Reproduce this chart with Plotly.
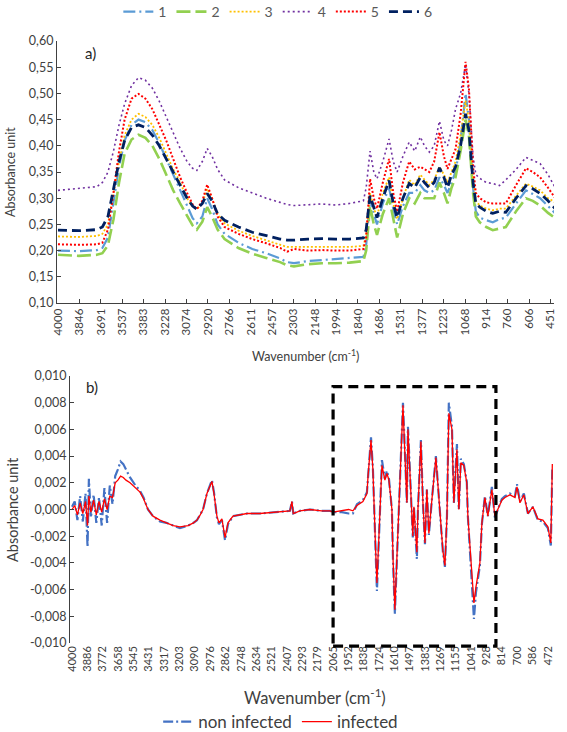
import plotly.graph_objects as go

W, H = 567, 732

# ---------------- data: panel a) ----------------
wn_a = [4000, 3850, 3720, 3680, 3640, 3600, 3560, 3520, 3470, 3420, 3370, 3320, 3270, 3220,
        3170, 3120, 3070, 3030, 3000, 2960, 2925, 2890, 2850, 2800, 2700, 2600, 2500, 2400,
        2350, 2300, 2200, 2100, 2000, 1900, 1800, 1780, 1752, 1725, 1702, 1660, 1615, 1585,
        1557, 1515, 1470, 1430, 1390, 1360, 1325, 1290, 1252, 1220, 1194, 1165, 1136, 1100,
        1064, 1040, 1010, 990, 962, 915, 868, 820, 774, 700, 629, 580, 527, 470, 418]

s1 = [0.200, 0.199, 0.201, 0.205, 0.225, 0.290, 0.360, 0.410, 0.440, 0.450, 0.445, 0.430, 0.405, 0.375,
      0.345, 0.315, 0.285, 0.262, 0.252, 0.265, 0.300, 0.280, 0.250, 0.232, 0.215, 0.203, 0.195, 0.185,
      0.178, 0.176, 0.180, 0.182, 0.184, 0.185, 0.188, 0.210, 0.300, 0.270, 0.250, 0.290, 0.320, 0.280,
      0.250, 0.285, 0.310, 0.310, 0.325, 0.315, 0.310, 0.315, 0.340, 0.325, 0.310, 0.330, 0.350, 0.410,
      0.500, 0.450, 0.320, 0.275, 0.263, 0.258, 0.254, 0.260, 0.263, 0.290, 0.315, 0.308, 0.300, 0.285, 0.271]
s2 = [0.192, 0.190, 0.192, 0.195, 0.210, 0.260, 0.330, 0.385, 0.412, 0.421, 0.415, 0.400, 0.375, 0.345,
      0.315, 0.290, 0.265, 0.248, 0.240, 0.255, 0.283, 0.265, 0.240, 0.222, 0.205, 0.194, 0.186, 0.178,
      0.172, 0.170, 0.174, 0.176, 0.176, 0.177, 0.180, 0.200, 0.285, 0.250, 0.230, 0.270, 0.300, 0.260,
      0.225, 0.270, 0.300, 0.290, 0.310, 0.300, 0.300, 0.300, 0.330, 0.310, 0.290, 0.320, 0.340, 0.390,
      0.450, 0.420, 0.310, 0.265, 0.254, 0.245, 0.239, 0.242, 0.245, 0.275, 0.300, 0.295, 0.286, 0.272, 0.262]
s3 = [0.227, 0.226, 0.228, 0.232, 0.250, 0.310, 0.370, 0.420, 0.450, 0.461, 0.455, 0.440, 0.415, 0.385,
      0.355, 0.330, 0.300, 0.285, 0.279, 0.290, 0.318, 0.300, 0.270, 0.252, 0.238, 0.228, 0.220, 0.212,
      0.207, 0.207, 0.207, 0.208, 0.207, 0.207, 0.209, 0.230, 0.310, 0.280, 0.265, 0.310, 0.340, 0.290,
      0.260, 0.300, 0.335, 0.325, 0.345, 0.335, 0.325, 0.335, 0.360, 0.345, 0.330, 0.350, 0.370, 0.420,
      0.486, 0.450, 0.340, 0.295, 0.286, 0.280, 0.277, 0.280, 0.280, 0.305, 0.328, 0.322, 0.315, 0.300, 0.292]
s4 = [0.315, 0.318, 0.322, 0.330, 0.350, 0.390, 0.440, 0.480, 0.515, 0.530, 0.525, 0.510, 0.485, 0.455,
      0.425, 0.395, 0.370, 0.357, 0.353, 0.370, 0.395, 0.380, 0.355, 0.335, 0.320, 0.310, 0.300, 0.292,
      0.288, 0.286, 0.288, 0.289, 0.287, 0.290, 0.295, 0.320, 0.390, 0.350, 0.337, 0.370, 0.413, 0.370,
      0.350, 0.380, 0.407, 0.390, 0.417, 0.400, 0.388, 0.400, 0.447, 0.410, 0.400, 0.430, 0.470, 0.500,
      0.555, 0.500, 0.380, 0.345, 0.338, 0.330, 0.328, 0.324, 0.335, 0.355, 0.378, 0.372, 0.366, 0.345, 0.320]
s5 = [0.212, 0.211, 0.212, 0.215, 0.240, 0.310, 0.390, 0.450, 0.490, 0.499, 0.490, 0.470, 0.440, 0.410,
      0.375, 0.340, 0.310, 0.288, 0.279, 0.295, 0.326, 0.300, 0.265, 0.245, 0.232, 0.222, 0.214, 0.205,
      0.198, 0.203, 0.200, 0.201, 0.200, 0.200, 0.203, 0.225, 0.337, 0.300, 0.280, 0.330, 0.375, 0.310,
      0.274, 0.330, 0.370, 0.355, 0.360, 0.355, 0.350, 0.370, 0.426, 0.380, 0.356, 0.375, 0.394, 0.460,
      0.560, 0.510, 0.360, 0.310, 0.300, 0.292, 0.290, 0.290, 0.290, 0.325, 0.357, 0.350, 0.340, 0.320, 0.300]
s6 = [0.239, 0.238, 0.240, 0.245, 0.265, 0.320, 0.370, 0.410, 0.435, 0.440, 0.435, 0.420, 0.400, 0.375,
      0.350, 0.325, 0.300, 0.285, 0.279, 0.290, 0.309, 0.295, 0.270, 0.258, 0.245, 0.235, 0.228, 0.222,
      0.220, 0.220, 0.222, 0.223, 0.222, 0.222, 0.224, 0.240, 0.305, 0.280, 0.263, 0.300, 0.334, 0.290,
      0.263, 0.300, 0.328, 0.320, 0.340, 0.330, 0.320, 0.330, 0.358, 0.340, 0.320, 0.345, 0.360, 0.400,
      0.461, 0.430, 0.330, 0.290, 0.283, 0.275, 0.271, 0.275, 0.273, 0.300, 0.324, 0.318, 0.309, 0.295, 0.280]

series_a = [("1", s1), ("2", s2), ("3", s3), ("4", s4), ("5", s5), ("6", s6)]
ticks_a = [4000, 3846, 3691, 3537, 3383, 3228, 3074, 2920, 2766, 2611, 2457, 2303, 2148, 1994,
           1840, 1686, 1531, 1377, 1223, 1068, 914, 760, 606, 451]
yticks_a = [0.10, 0.15, 0.20, 0.25, 0.30, 0.35, 0.40, 0.45, 0.50, 0.55, 0.60]
ytext_a = ["0,10", "0,15", "0,20", "0,25", "0,30", "0,35", "0,40", "0,45", "0,50", "0,55", "0,60"]

# ---------------- data: panel b) ----------------
wn_b = [4000, 3980, 3960, 3940, 3920, 3900, 3885, 3875, 3860, 3840, 3820, 3800, 3780, 3760, 3740,
        3720, 3700, 3680, 3660, 3640, 3620, 3600, 3570, 3530, 3496, 3470, 3437, 3400, 3348, 3300,
        3250, 3200, 3140, 3100, 3074, 3050, 3029, 3000, 2963, 2948, 2926, 2911, 2889, 2866, 2844,
        2807, 2750, 2703, 2607, 2481, 2385, 2370, 2360, 2311, 2237, 2150, 2088, 2066, 2000, 1950,
        1918, 1888, 1844, 1814, 1806, 1784, 1770, 1762, 1747, 1740, 1725, 1703, 1681, 1666, 1651,
        1629, 1621, 1607, 1592, 1577, 1562, 1547, 1533, 1518, 1510, 1496, 1481, 1474, 1466, 1444,
        1436, 1414, 1399, 1384, 1370, 1355, 1333, 1303, 1281, 1251, 1236, 1221, 1207, 1184, 1170,
        1147, 1133, 1118, 1096, 1074, 1066, 1036, 1021, 1006, 992, 977, 962, 940, 918, 888,
        866, 843, 814, 791, 754, 717, 702, 680, 651, 621, 584, 547, 510, 473, 451, 440]

infected = [0.0000, 0.0003, -0.0004, 0.0005, -0.0003, 0.0006, -0.0012, 0.0010, -0.0002, 0.0007,
            -0.0004, 0.0006, -0.0002, 0.0008, 0.0000, 0.0010, 0.0009, 0.0020, 0.0022, 0.0025,
            0.0024, 0.0022, 0.0020, 0.0016, 0.0013, 0.0008, 0.0000, -0.0005, -0.0008, -0.0010,
            -0.0012, -0.0013, -0.0012, -0.0010, -0.0008, -0.0004, 0.0000, 0.0012, 0.0021, 0.0012,
            -0.0005, -0.0010, -0.0007, -0.0021, -0.0010, -0.0005, -0.0004, -0.0003, -0.0003, -0.0002,
            -0.0001, 0.0006, -0.0003, -0.0001, 0.0000, -0.0001, -0.0001, -0.0002, -0.0001, 0.0000,
            -0.0001, 0.0003, 0.0006, 0.0012, 0.0025, 0.0052, 0.0030, 0.0000, -0.0038, -0.0055,
            -0.0015, 0.0033, 0.0022, 0.0027, 0.0022, 0.0000, -0.0036, -0.0075, -0.0036, 0.0000,
            0.0030, 0.0078, 0.0042, 0.0005, 0.0060, 0.0030, 0.0000, -0.0020, 0.0002, -0.0032,
            0.0000, 0.0051, 0.0005, -0.0025, 0.0015, -0.0018, 0.0007, 0.0039, 0.0009, -0.0031,
            -0.0042, -0.0005, 0.0072, 0.0060, 0.0005, 0.0045, 0.0000, 0.0035, 0.0033, 0.0020,
            -0.0005, -0.0050, -0.0070, -0.0058, -0.0048, -0.0040, -0.0010, 0.0009, -0.0005, 0.0015,
            -0.0005, 0.0000, 0.0007, 0.0009, 0.0011, 0.0009, 0.0017, 0.0005, 0.0011, -0.0003,
            0.0002, -0.0007, -0.0008, -0.0013, -0.0025, 0.0034]
non_infected = [0.0002, 0.0006, -0.0008, 0.0010, -0.0009, 0.0012, -0.0028, 0.0023, -0.0006, 0.0011,
                -0.0010, 0.0009, -0.0012, 0.0016, -0.0010, 0.0018, 0.0004, 0.0025, 0.0030, 0.0036,
                0.0034, 0.0030, 0.0024, 0.0018, 0.0014, 0.0009, 0.0000, -0.0005, -0.0009, -0.0010,
                -0.0012, -0.0014, -0.0012, -0.0010, -0.0008, -0.0004, 0.0000, 0.0012, 0.0022, 0.0013,
                -0.0006, -0.0011, -0.0008, -0.0023, -0.0011, -0.0005, -0.0004, -0.0003, -0.0003, -0.0002,
                -0.0001, 0.0006, -0.0003, -0.0001, 0.0000, -0.0001, -0.0001, -0.0002, -0.0002, -0.0003,
                -0.0003, 0.0004, 0.0007, 0.0013, 0.0026, 0.0054, 0.0031, 0.0000, -0.0040, -0.0061,
                -0.0016, 0.0037, 0.0023, 0.0029, 0.0023, 0.0000, -0.0038, -0.0078, -0.0038, 0.0000,
                0.0031, 0.0080, 0.0044, 0.0005, 0.0062, 0.0031, 0.0000, -0.0021, 0.0002, -0.0037,
                0.0000, 0.0052, 0.0005, -0.0026, 0.0015, -0.0019, 0.0007, 0.0040, 0.0009, -0.0032,
                -0.0043, -0.0005, 0.0080, 0.0062, 0.0005, 0.0049, 0.0000, 0.0038, 0.0034, 0.0021,
                -0.0005, -0.0055, -0.0082, -0.0062, -0.0053, -0.0042, -0.0011, 0.0010, -0.0005, 0.0017,
                -0.0006, 0.0000, 0.0008, 0.0010, 0.0012, 0.0010, 0.0019, 0.0006, 0.0012, -0.0003,
                0.0002, -0.0008, -0.0009, -0.0014, -0.0027, 0.0032]

ticks_b = [4000, 3886, 3772, 3658, 3545, 3431, 3317, 3203, 3090, 2976, 2862, 2748, 2634, 2521,
           2407, 2293, 2179, 2065, 1952, 1838, 1724, 1610, 1497, 1383, 1269, 1155, 1041, 928,
           814, 700, 586, 472]
yticks_b = [-0.010, -0.008, -0.006, -0.004, -0.002, 0.000, 0.002, 0.004, 0.006, 0.008, 0.010]
ytext_b = ["-0,010", "-0,008", "-0,006", "-0,004", "-0,002", "0,000", "0,002", "0,004", "0,006",
           "0,008", "0,010"]

# highlighted region (wavenumbers) of panel b)
box_wn = [2065, 858]

# ---------------- layout helpers ----------------
def fx(p):
    return p / W

def fy(p):
    return 1 - p / H

FONT = "Lato"
TXT = "#404040"

styles_a = {
    "1": dict(color="#5B9BD5", width=2.2, dash="12px,4px,2px,4px"),
    "2": dict(color="#92D050", width=2.6, dash="14px,5px"),
    "3": dict(color="#FFC000", width=1.8, dash="2px,2px"),
    "4": dict(color="#7030A0", width=1.6, dash="2px,3px"),
    "5": dict(color="#FF0000", width=2.0, dash="2px,2px"),
    "6": dict(color="#002060", width=2.8, dash="9px,5px"),
}

fig = go.Figure()
for name, vals in series_a:
    fig.add_trace(go.Scatter(x=wn_a, y=vals, mode="lines", name=name, line=styles_a[name],
                             xaxis="x", yaxis="y", legend="legend"))

fig.add_trace(go.Scatter(x=wn_b, y=non_infected, mode="lines", name="non infected",
                         line=dict(color="#4472C4", width=2.2, dash="10px,3px,2px,3px"),
                         xaxis="x2", yaxis="y2", legend="legend2"))
fig.add_trace(go.Scatter(x=wn_b, y=infected, mode="lines", name="infected",
                         line=dict(color="#FF0000", width=1.3),
                         xaxis="x2", yaxis="y2", legend="legend2"))

rng_a = [4007, 427]
rng_b = [4015, 435]
dom_b_y = [fy(643), fy(376)]

fig.update_layout(
    width=W, height=H, margin=dict(l=0, r=0, t=0, b=0, autoexpand=False),
    paper_bgcolor="white", plot_bgcolor="white",
    font=dict(family=FONT, color=TXT, size=12),
    xaxis=dict(domain=[fx(57), fx(554)], range=rng_a, anchor="y",
               tickmode="array", tickvals=ticks_a, ticktext=[str(t) for t in ticks_a],
               tickangle=-90, tickfont=dict(size=11.5, color=TXT),
               showline=True, linecolor="#404040", linewidth=1.2,
               ticks="inside", ticklen=4, tickcolor="#404040", showgrid=False, zeroline=False),
    yaxis=dict(domain=[fy(303), fy(41)], range=[0.10, 0.60], anchor="x",
               tickmode="array", tickvals=yticks_a, ticktext=ytext_a,
               tickfont=dict(size=12.5, color=TXT),
               showline=True, linecolor="#404040", linewidth=1.2,
               ticks="inside", ticklen=4, tickcolor="#404040", showgrid=False, zeroline=False),
    xaxis2=dict(domain=[fx(70), fx(553)], range=rng_b, anchor="y2",
                tickmode="array", tickvals=ticks_b, ticktext=[str(t) for t in ticks_b],
                tickangle=-90, tickfont=dict(size=11, color=TXT),
                showline=False, ticks="", showgrid=False, zeroline=False),
    xaxis3=dict(domain=[fx(70), fx(553)], range=rng_b, overlaying="x2", anchor="free",
                position=(dom_b_y[0] + dom_b_y[1]) / 2, side="top",
                tickmode="array", tickvals=ticks_b, showticklabels=False,
                showline=True, linecolor="#404040", linewidth=1.2,
                ticks="outside", ticklen=4, tickcolor="#404040", showgrid=False, zeroline=False),
    yaxis2=dict(domain=dom_b_y, range=[-0.010, 0.010], anchor="x2",
                tickmode="array", tickvals=yticks_b, ticktext=ytext_b,
                tickfont=dict(size=12.5, color=TXT),
                showline=True, linecolor="#404040", linewidth=1.2,
                ticks="inside", ticklen=4, tickcolor="#404040", showgrid=False, zeroline=False),
    legend=dict(orientation="h", x=0.49, xanchor="center", y=fy(12), yanchor="middle",
                font=dict(size=14, color="#595959"), bgcolor="rgba(0,0,0,0)",
                itemwidth=30, tracegroupgap=0),
    legend2=dict(orientation="h", x=0.495, xanchor="center", y=fy(722), yanchor="middle",
                 font=dict(size=17, color=TXT), bgcolor="rgba(0,0,0,0)"),
)

# dashed highlight box (domain fractions derived from the axis range)
def dom_frac(wn, rng):
    return (rng[0] - wn) / (rng[0] - rng[1])

fig.add_shape(type="rect", xref="x2 domain", yref="y2 domain",
              x0=dom_frac(box_wn[0], rng_b), x1=dom_frac(box_wn[1], rng_b),
              y0=-0.012, y1=0.96,
              line=dict(color="black", width=3.2, dash="10px,6px"), fillcolor="rgba(0,0,0,0)")

annos = [
    dict(x=fx(90), y=fy(53), text="a)", font=dict(size=15, color="#262626")),
    dict(x=fx(92), y=fy(387), text="b)", font=dict(size=15, color="#262626")),
    dict(x=fx(305), y=fy(355), text="Wavenumber (cm<sup>-1</sup>)", font=dict(size=12.5, color=TXT)),
    dict(x=fx(315), y=fy(697), text="Wavenumber (cm<sup>-1</sup>)", font=dict(size=16.5, color=TXT)),
    dict(x=fx(10), y=fy(172), text="Absorbance unit", textangle=-90, font=dict(size=12.5, color=TXT)),
    dict(x=fx(12), y=fy(510), text="Absorbance unit", textangle=-90, font=dict(size=14.5, color=TXT)),
]
for a in annos:
    fig.add_annotation(xref="paper", yref="paper", showarrow=False, xanchor="center",
                       yanchor="middle", **a)

fig.write_html("out.html")
